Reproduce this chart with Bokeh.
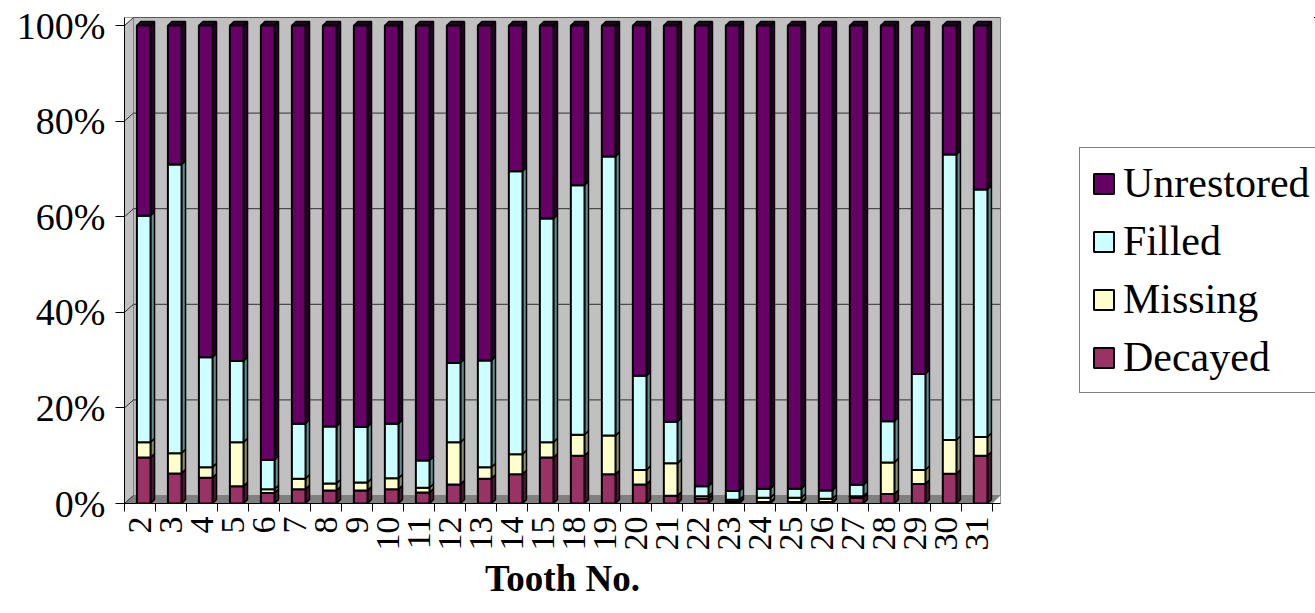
import math
import numpy as np
from bokeh.plotting import figure
from bokeh.layouts import row
from bokeh.models import FixedTicker, Legend, LegendItem
from bokeh.embed import file_html
from bokeh.resources import INLINE

# ---------------- data ----------------
teeth = ["2", "3", "4", "5", "6", "7", "8", "9", "10", "11", "12", "13", "14", "15",
         "18", "19", "20", "21", "22", "23", "24", "25", "26", "27", "28", "29", "30", "31"]
decayed = [9.6, 6.3, 5.4, 3.6, 2.2, 3.0, 2.7, 2.7, 3.0, 2.3, 4.0, 5.2, 6.1, 9.6,
           10.0, 6.1, 4.0, 1.6, 1.0, 0.3, 0.3, 0.3, 0.3, 1.2, 2.0, 4.1, 6.2, 10.0]
missing = [3.2, 4.2, 2.2, 9.2, 0.8, 2.2, 1.5, 1.7, 2.3, 1.0, 8.8, 2.4, 4.2, 3.2,
           4.4, 8.1, 3.0, 6.8, 0.5, 0.5, 0.9, 0.9, 0.7, 0.3, 6.6, 2.9, 7.1, 3.9]
filled = [47.4, 60.4, 23.0, 17.0, 6.1, 11.5, 11.9, 11.6, 11.4, 5.7, 16.6, 22.3, 59.2, 46.8,
          52.2, 58.4, 19.7, 8.7, 2.1, 1.8, 1.9, 1.9, 1.7, 2.4, 8.6, 20.1, 59.7, 51.8]
unrestored = [39.8, 29.1, 69.4, 70.2, 90.9, 83.3, 83.9, 84.0, 83.3, 91.0, 70.6, 70.1, 30.5, 40.4,
              33.4, 27.4, 73.3, 82.9, 96.4, 97.4, 96.9, 96.9, 97.3, 96.1, 82.8, 72.9, 27.0, 34.3]
series_names = ["Decayed", "Missing", "Filled", "Unrestored"]
y_ticks = [0, 20, 40, 60, 80, 100]
y_tick_labels = ["0%", "20%", "40%", "60%", "80%", "100%"]

# ---------------- style ----------------
front_colors = ["#993366", "#FFFFCC", "#CCFFFF", "#660066"]
side_colors = ["#4D1A33", "#8C8C66", "#5E8C8C", "#2A002A"]
FONT = "Liberation Serif"

n = len(teeth)
px_per_cat = 31.0
px_per_pct = 4.78
wall_dx = 9 / px_per_cat      # depth of walls (data units)
wall_dy = 8 / px_per_pct
bar_dx = 4 / px_per_cat       # depth of bars
bar_dy = 4 / px_per_pct
bar_w = 0.44
bar_shift = 0.12

x_end = n + wall_dx * 0.9
y_end = 100 + wall_dy

MAIN_W = 1008
H = 613
p = figure(width=MAIN_W, height=H, x_range=(0, x_end), y_range=(0, y_end),
           output_backend="svg", toolbar_location=None,
           min_border_left=124, min_border_top=17, min_border_right=8, min_border_bottom=110)
p.background_fill_color = "#C0C0C0"
p.border_fill_color = "white"
p.outline_line_color = "#808080"
p.xgrid.visible = False
p.ygrid.visible = False

# walls / floor
p.patch([0, wall_dx, wall_dx, 0], [0, wall_dy, y_end, 100],
        fill_color="#C0C0C0", line_color="#808080", line_width=1)
p.patch([0, wall_dx, 0], [100, y_end, y_end], fill_color="white", line_color=None)
p.patch([wall_dx, x_end, n, 0], [wall_dy, wall_dy, 0, 0],
        fill_color="#808080", line_color="#808080")
p.patch([n, x_end, x_end], [0, wall_dy, 0], fill_color="white", line_color=None)

# back-wall gridlines
gy = [v + wall_dy for v in y_ticks[1:]]
p.segment(x0=[wall_dx] * len(gy), y0=gy, x1=[x_end] * len(gy), y1=gy,
          line_color="#303030", line_width=1)
p.segment(x0=[0] * len(y_ticks), y0=y_ticks, x1=[wall_dx] * len(y_ticks),
          y1=[v + wall_dy for v in y_ticks], line_color="#303030", line_width=1)

# bars
vals = np.array([decayed, missing, filled, unrestored])
tops = np.cumsum(vals, axis=0)
bottoms = tops - vals
xc = np.arange(n) + 0.5 + bar_shift
xl = xc - bar_w / 2
xr = xc + bar_w / 2

for k in range(4):
    xs = [[a, a + bar_dx, a + bar_dx, a] for a in xr]
    ys = [[b, b + bar_dy, t + bar_dy, t] for b, t in zip(bottoms[k], tops[k])]
    p.patches(xs, ys, fill_color=side_colors[k], line_color="black", line_width=1.5)
txs = [[a, a + bar_dx, b + bar_dx, b] for a, b in zip(xl, xr)]
tys = [[t, t + bar_dy, t + bar_dy, t] for t in tops[3]]
p.patches(txs, tys, fill_color=side_colors[3], line_color="black", line_width=1.5)

for k in range(4):
    p.vbar(x=xc, width=bar_w, bottom=bottoms[k], top=tops[k],
           fill_color=front_colors[k], line_color="black", line_width=2)

# axes
p.yaxis.ticker = FixedTicker(ticks=y_ticks)
p.yaxis.major_label_overrides = {v: s for v, s in zip(y_ticks, y_tick_labels)}
p.yaxis.major_label_text_font = FONT
p.yaxis.major_label_text_font_size = "38px"
p.yaxis.major_label_text_color = "black"
p.yaxis.major_tick_out = 9
p.yaxis.major_tick_in = 0
p.yaxis.minor_tick_out = 0
p.yaxis.minor_tick_in = 0
p.yaxis.major_label_standoff = 10
p.yaxis.axis_line_color = "black"
p.yaxis.major_tick_line_color = "black"

centers = [i + 0.5 for i in range(n)]
p.xaxis.ticker = FixedTicker(ticks=centers, minor_ticks=list(range(n + 1)))
p.xaxis.major_label_overrides = {c: t for c, t in zip(centers, teeth)}
p.xaxis.major_label_orientation = math.pi / 2
p.xaxis.major_label_text_font = FONT
p.xaxis.major_label_text_font_size = "34px"
p.xaxis.major_label_text_color = "black"
p.xaxis.major_tick_out = 0
p.xaxis.major_tick_in = 0
p.xaxis.minor_tick_out = 8
p.xaxis.minor_tick_in = 0
p.xaxis.minor_tick_line_color = "black"
p.xaxis.major_label_standoff = 5
p.xaxis.axis_line_color = "black"
p.xaxis.axis_label = "Tooth No."
p.xaxis.axis_label_text_font = FONT
p.xaxis.axis_label_text_font_size = "37px"
p.xaxis.axis_label_text_font_style = "bold"
p.xaxis.axis_label_text_color = "black"
p.xaxis.axis_label_standoff = 4

# legend panel (separate figure at the right; proxies are out of its view)
LEG_W = 1315 - MAIN_W
lf = figure(width=LEG_W, height=H, output_backend="svg", toolbar_location=None,
            x_axis_location=None, y_axis_location=None, min_border=0,
            x_range=(-2, -1), y_range=(-2, -1))
lf.outline_line_color = None
lf.background_fill_color = "white"
lf.border_fill_color = "white"
lf.xgrid.visible = False
lf.ygrid.visible = False
leg_renderers = []
for k in range(4):
    r = lf.vbar(x=xc, width=bar_w, bottom=bottoms[k], top=tops[k],
                fill_color=front_colors[k], line_color="black", line_width=2)
    leg_renderers.append(r)
items = [LegendItem(label=series_names[k], renderers=[leg_renderers[k]]) for k in [3, 2, 1, 0]]
legend = Legend(items=items, location=(1079 - MAIN_W, 110))
legend.label_text_font = FONT
legend.label_text_font_size = "42px"
legend.label_text_color = "black"
legend.glyph_width = 25
legend.glyph_height = 25
legend.label_standoff = 7
legend.spacing = 10
legend.padding = 11
legend.margin = 0
legend.border_line_color = "black"
legend.border_line_width = 1
legend.background_fill_color = "white"
legend.background_fill_alpha = 1
lf.add_layout(legend, "center")

layout = row(p, lf, spacing=0)
open("out.html", "w").write(file_html(layout, INLINE))
